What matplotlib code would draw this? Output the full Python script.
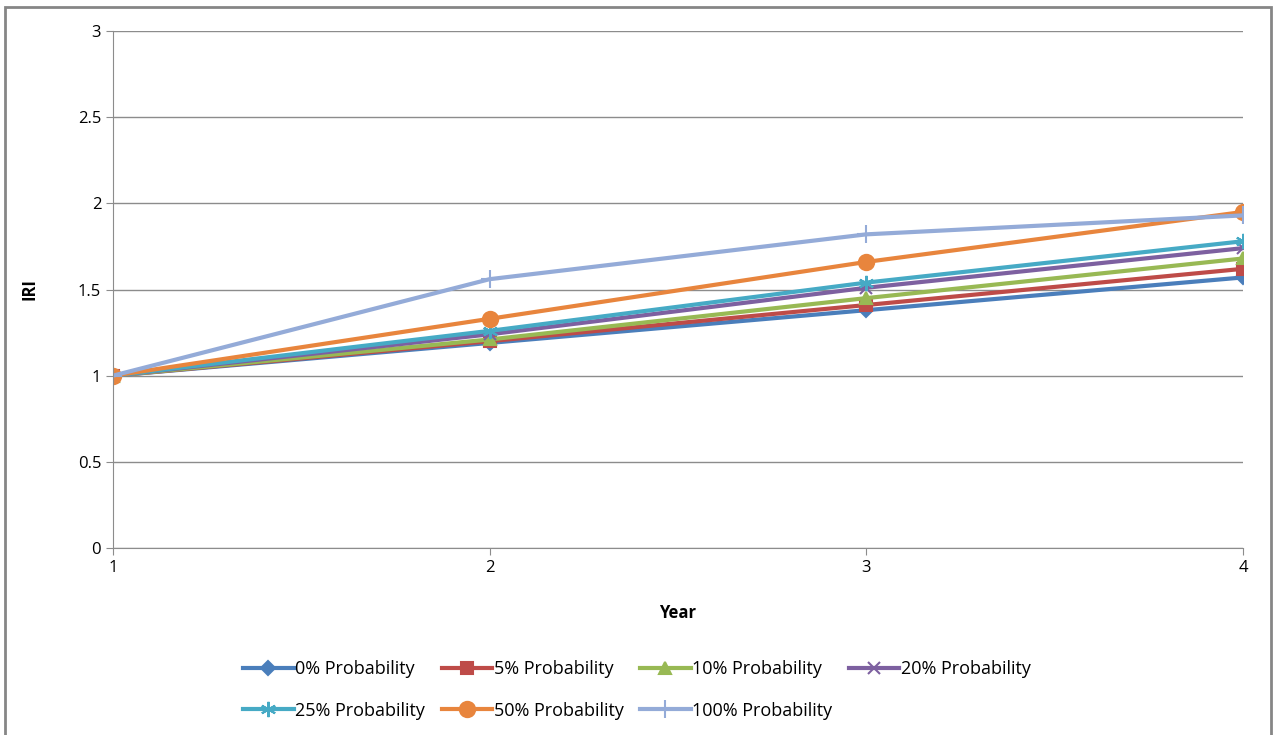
import matplotlib
matplotlib.use('Agg')
import matplotlib.pyplot as plt
import matplotlib.patches as mpatches

# datos
years = [1, 2, 3, 4]
p0 = [1.0, 1.19, 1.38, 1.57]
p5 = [1.0, 1.20, 1.41, 1.62]
p10 = [1.0, 1.21, 1.45, 1.68]
p20 = [1.0, 1.24, 1.51, 1.74]
p25 = [1.0, 1.26, 1.54, 1.78]
p50 = [1.0, 1.33, 1.66, 1.95]
p100 = [1.0, 1.56, 1.82, 1.93]

labels = ['0% Probability', '5% Probability', '10% Probability', '20% Probability',
          '25% Probability', '50% Probability', '100% Probability']
series = [p0, p5, p10, p20, p25, p50, p100]
colores = ['#4A7EBB', '#BE4B48', '#98B954', '#7D60A0', '#46AAC5', '#E8853D', '#94ABD8']
marcadores = ['D', 's', '^', 'x', (6, 2, 0), 'o', '+']
tamanos = [7, 8, 9, 9, 11, 11, 13]

plt.rcParams['font.family'] = ['Open Sans', 'DejaVu Sans']

fig = plt.figure(figsize=(12.74, 7.35), dpi=100)
ax = fig.add_axes([113/1274, 1 - 548/735, (1243-113)/1274, (548-31)/735])

handles = []
for i in range(len(series)):
    ln, = ax.plot(years, series[i], color=colores[i], linewidth=3, marker=marcadores[i],
                  markersize=tamanos[i], markeredgecolor=colores[i], markeredgewidth=1.5,
                  label=labels[i])
    handles.append(ln)

ax.set_xlim(1, 4)
ax.set_ylim(0, 3)
ax.set_xticks(years)
ax.set_yticks([0, 0.5, 1, 1.5, 2, 2.5, 3])
ax.set_yticklabels(['0', '0.5', '1', '1.5', '2', '2.5', '3'])
ax.yaxis.grid(True, color='#8C8C8C', linewidth=1)
ax.set_axisbelow(True)
for s in ['top', 'right']:
    ax.spines[s].set_visible(False)
ax.spines['left'].set_color('#8C8C8C')
ax.spines['bottom'].set_color('#8C8C8C')
ax.tick_params(axis='both', colors='#8C8C8C', labelcolor='black', labelsize=12, length=5)
ax.set_xlabel('Year', fontsize=12, fontweight='bold', labelpad=20)
ax.set_ylabel('IRI', fontsize=12, fontweight='bold', labelpad=28)

# orden por filas en la leyenda
orden = [0, 4, 1, 5, 2, 6, 3]
fig.legend(handles=[handles[i] for i in orden], labels=[labels[i] for i in orden],
           loc='upper center', ncol=4,
           bbox_to_anchor=(0.5, 1 - 644/735), frameon=False, fontsize=13,
           handlelength=2.8, handletextpad=0.1, columnspacing=0.9, labelspacing=1.3)

# borde exterior del grafico
borde = mpatches.Rectangle((5/1274, -0.01), 1266/1274, 1 - 7/735 + 0.01,
                           transform=fig.transFigure, fill=False,
                           edgecolor='#868686', linewidth=2)
fig.patches.append(borde)

fig.savefig('out.png', dpi=100)
